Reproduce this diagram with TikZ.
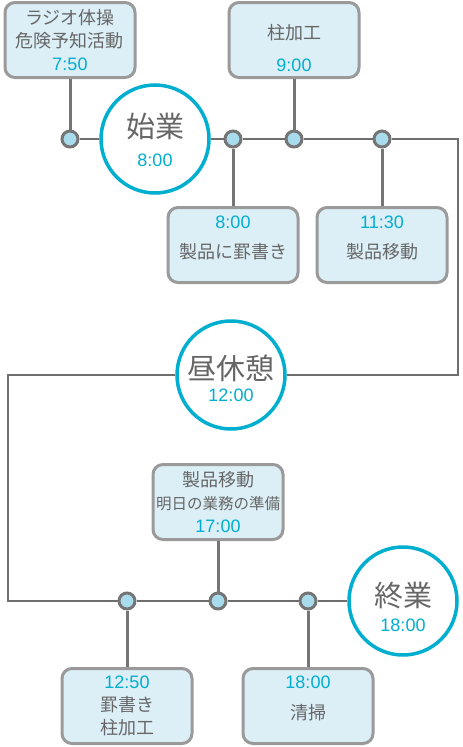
\documentclass[tikz,border=0pt]{standalone}
\usepackage{fontspec}
\setmainfont{Noto Sans CJK JP}
\newfontfamily\timefont{Liberation Sans}

\definecolor{boxgray}{HTML}{9A9A9A}
\definecolor{boxfill}{HTML}{DCEFF7}
\definecolor{dotgray}{HTML}{757575}
\definecolor{dotfill}{HTML}{A8DCEC}
\definecolor{linegray}{HTML}{6E6E6E}
\definecolor{mcyan}{HTML}{00AED0}
\definecolor{tgray}{HTML}{666666}

\tikzset{
  box/.style={draw=boxgray, line width=3pt, fill=boxfill, rounded corners=10pt,
    minimum width=130pt, minimum height=75pt, inner sep=0pt,
    text=tgray, align=center, font=\fontsize{18}{23}\selectfont},
  dot/.style={circle, draw=dotgray, line width=3pt, fill=dotfill, minimum size=16pt, inner sep=0pt},
  milestone/.style={circle, draw=mcyan, line width=3.5pt, fill=white, minimum size=108pt, inner sep=0pt},
  jtext/.style={text=tgray, font=\fontsize{18}{23}\selectfont},
  ttext/.style={text=mcyan, font=\timefont\fontsize{18}{20}\selectfont},
  bigtext/.style={text=tgray, font=\fontsize{29}{30}\selectfont},
  link/.style={draw=linegray, line width=2.5pt},
  stem/.style={draw=dotgray, line width=3pt},
}

\begin{document}
\begin{tikzpicture}[x=1pt, y=-1pt]

        \useasboundingbox (0,0) rectangle (463,747);

        % Boxes
        \node[box] (radio) at (70,40) {ラジオ体操\\危険予知活動\\\textcolor{mcyan}{\timefont 7:50}};
        \node[box] (hashira) at (294,40) {};
        \node[jtext] (hashiraT) at (294,33) {柱加工};
        \node[ttext] (hashiraM) at (294,65) {9:00};
        \node[box] (keisho) at (233,245) {};
        \node[ttext] (keishoM) at (233,222) {8:00};
        \node[jtext] (keishoT) at (233,252) {製品に罫書き};
        \node[box] (idou) at (382,245) {};
        \node[ttext] (idouM) at (382,222) {11:30};
        \node[jtext] (idouT) at (382,252) {製品移動};
        \node[box] (junbi) at (218,502) {製品移動\\{\fontsize{15.5}{23}\selectfont 明日の業務の準備}\\\textcolor{mcyan}{\timefont 17:00}};
        \node[box] (kakou) at (127,706) {\textcolor{mcyan}{\timefont 12:50}\\罫書き\\柱加工};
        \node[box] (seisou) at (308,706) {};
        \node[ttext] (seisouM) at (308,682) {18:00};
        \node[jtext] (seisouT) at (308,713) {清掃};

        % Milestones
        \node[milestone] (shigyo) at (155,139) {};
        \node[bigtext] (shigyoT) at (155,127) {始業};
        \node[ttext] (shigyoM) at (155,160) {8:00};
        \node[milestone] (kyukei) at (231,375) {};
        \node[bigtext] (kyukeiT) at (231,368) {昼休憩};
        \node[ttext] (kyukeiM) at (231,395) {12:00};
        \node[milestone] (shugyo) at (403,601) {};
        \node[bigtext] (shugyoT) at (403,596) {終業};
        \node[ttext] (shugyoM) at (403,625) {18:00};

        % Dots
        \node[dot] (p1) at (70,139) {};
        \node[dot] (p2) at (233,139) {};
        \node[dot] (p3) at (294,139) {};
        \node[dot] (p4) at (382,139) {};
        \node[dot] (p5) at (127,601) {};
        \node[dot] (p6) at (218,601) {};
        \node[dot] (p7) at (308,601) {};

        \coordinate (ne) at (458,139);
        \coordinate (e) at (458,375);
        \coordinate (w) at (8,375);
        \coordinate (sw) at (8,601);

        % Timeline
        \draw[link] (p1) -- (shigyo);
        \draw[link] (shigyo) -- (p2);
        \draw[link] (p2) -- (p3);
        \draw[link] (p3) -- (p4);
        \draw[link] (p4) -- (ne) -- (e) -- (kyukei);
        \draw[link] (kyukei) -- (w) -- (sw) -- (p5);
        \draw[link] (p5) -- (p6);
        \draw[link] (p6) -- (p7);
        \draw[link] (p7) -- (shugyo);

        % Stems
        \draw[stem] (radio) -- (p1);
        \draw[stem] (hashira) -- (p3);
        \draw[stem] (p2) -- (keisho);
        \draw[stem] (p4) -- (idou);
        \draw[stem] (junbi) -- (p6);
        \draw[stem] (p5) -- (kakou);
        \draw[stem] (p7) -- (seisou);

    \end{tikzpicture}
\end{document}
